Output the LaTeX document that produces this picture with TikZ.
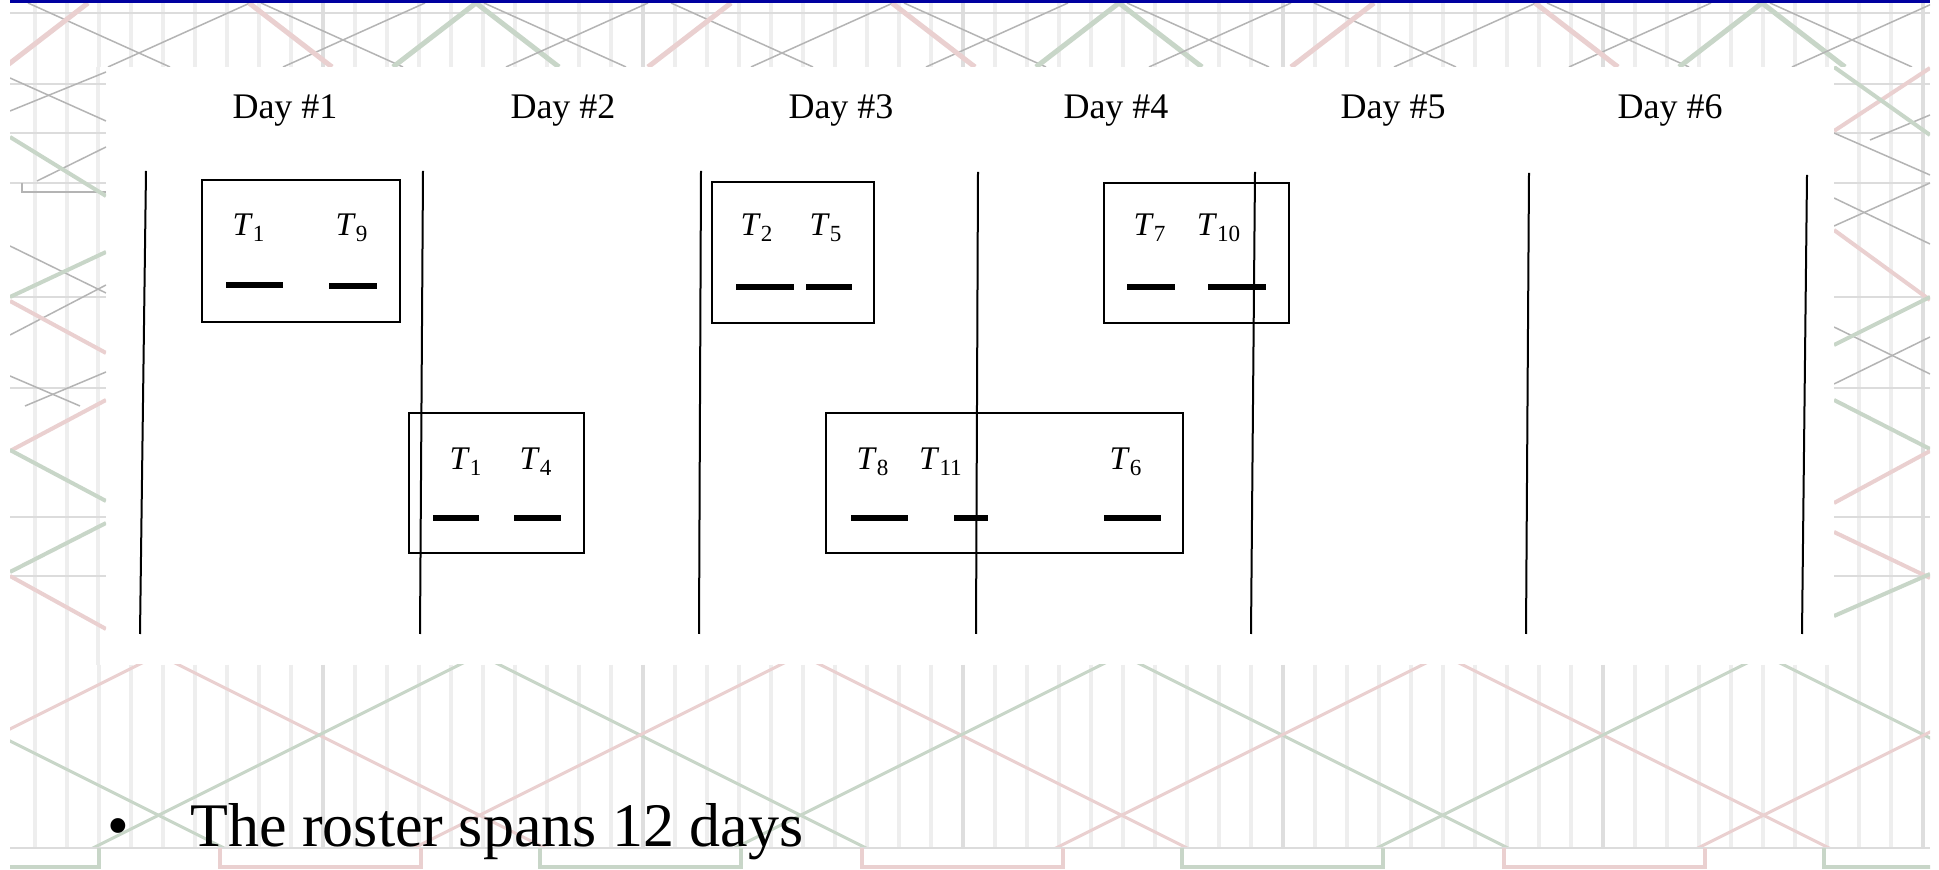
\documentclass[tikz,border=0pt]{standalone}
\usepackage{fontspec}
\setmainfont{Liberation Serif}
\definecolor{barblue}{RGB}{0,0,160}
\definecolor{stripe}{RGB}{238,238,238}
\definecolor{stripedk}{RGB}{222,222,222}
\definecolor{hl}{RGB}{220,220,220}
\definecolor{gl}{RGB}{180,180,180}
\definecolor{pk}{RGB}{234,208,208}
\definecolor{gn}{RGB}{200,214,200}
\newcommand\tsub[1]{\textit{T}\textsubscript{#1}}
\tikzset{
 stripeline/.style={stripe,line width=2pt},
 stripedark/.style={stripedk,line width=2pt},
 hline/.style={hl,line width=0.8pt},
 gline/.style={gl,line width=0.75pt},
 pinkthick/.style={pk,line width=2.5pt},
 greenthick/.style={gn,line width=2.5pt},
 pinkmid/.style={pk,line width=2pt},
 greenmid/.style={gn,line width=2pt},
 pinklat/.style={pk,line width=1.5pt},
 greenlat/.style={gn,line width=1.5pt},
 dayline/.style={black,line width=1pt},
 boxline/.style={black,line width=1pt},
 barline/.style={black,line width=2.8pt},
 daylab/.style={anchor=base,inner sep=0pt,font=\fontsize{18pt}{20pt}\selectfont},
 tlab/.style={anchor=base,inner sep=0pt,font=\fontsize{16.5pt}{18pt}\selectfont},
 bigtext/.style={inner sep=0pt,font=\fontsize{31pt}{36pt}\selectfont},
}
\begin{document}
\begin{tikzpicture}[x=0.5pt,y=-0.5pt]
\useasboundingbox (0,0) rectangle (1939,870);
\fill[white] (0,0) rectangle (1939,870);
\fill[barblue] (10,0) rectangle (1930,3.5);

% ---------- top band
\begin{scope}
\clip (10,3.5) rectangle (1930,67);
\foreach \i in {0,...,59} \draw[stripeline] ({35+32*\i},3) -- ({35+32*\i},67);
\foreach \i in {9,19,...,59} \draw[stripedark] ({35+32*\i},3) -- ({35+32*\i},67);
\draw[hline] (10,13) -- (1930,13);
\foreach \k in {-1,...,3}{
  \foreach \a in {28,261,484} \draw[gline] ({\a+643*\k},3) -- ({\a+643*\k+142},67);
  \foreach \a in {5,250,425} \draw[gline] ({\a+643*\k},3) -- ({\a+643*\k-142},67);
  \draw[pinkthick] ({88+643*\k},3) -- ({5+643*\k},67);
  \draw[pinkthick] ({249+643*\k},3) -- ({332+643*\k},67);
  \draw[greenthick] ({393+643*\k},67) -- ({476+643*\k},3) -- ({559+643*\k},67);
}
\end{scope}

% ---------- left band
\begin{scope}
\clip (10,67) rectangle (106,665);
\foreach \x in {35,67,98} \draw[stripeline] (\x,67) -- (\x,665);
\foreach \y in {84,133,183,297,388,517,576} \draw[hline] (10,\y) -- (106,\y);
\draw[gline] (10,111) -- (106,72);
\draw[gline] (10,78) -- (106,121);
\draw[gline] (37,181) -- (106,147);
\draw[gline] (10,246) -- (106,293);
\draw[gline] (10,335) -- (106,285);
\draw[gline] (10,376) -- (80,406);
\draw[gline] (25,406) -- (106,372);
\draw[gl,line width=1.3pt] (22,183) -- (22,192) -- (106,192);
\draw[greenmid] (10,137) -- (106,196);
\draw[greenmid] (106,252) -- (10,297);
\draw[pinkmid] (10,301) -- (106,353);
\draw[pinkmid] (106,400) -- (10,451);
\draw[greenmid] (10,450) -- (106,501);
\draw[greenmid] (106,523) -- (10,572);
\draw[pinkmid] (10,576) -- (106,629);
\end{scope}

% ---------- right band
\begin{scope}
\clip (1834,67) rectangle (1930,665);
\foreach \x in {1859,1891} \draw[stripeline] (\x,67) -- (\x,665);
\draw[stripedark] (1923,67) -- (1923,665);
\foreach \y in {84,133,183,297,388,517,576} \draw[hline] (1834,\y) -- (1930,\y);
\draw[gline] (1834,133) -- (1930,175);
\draw[gline] (1870,140) -- (1930,115);
\draw[gline] (1834,226) -- (1930,183);
\draw[gline] (1834,198) -- (1930,244);
\draw[gline] (1834,327) -- (1930,374);
\draw[gline] (1834,384) -- (1930,337);
\draw[pinkmid] (1834,131) -- (1930,68);
\draw[greenmid] (1834,67) -- (1930,135);
\draw[pinkmid] (1834,230) -- (1930,300);
\draw[greenmid] (1834,345) -- (1930,297);
\draw[greenmid] (1834,400) -- (1930,449);
\draw[pinkmid] (1834,503) -- (1930,451);
\draw[pinkmid] (1834,532) -- (1930,578);
\draw[greenmid] (1834,616) -- (1930,574);
\end{scope}

% ---------- bottom band
\begin{scope}
\clip (10,665) rectangle (1930,848);
\foreach \i in {0,...,59} \draw[stripeline] ({35+32*\i},665) -- ({35+32*\i},848);
\foreach \i in {9,19,...,59} \draw[stripedark] ({35+32*\i},665) -- ({35+32*\i},848);
\foreach \k in {-2,0,...,6}{
  \draw[pinklat] ({19+321*\k},585) -- ({619+321*\k},885);
  \draw[greenlat] ({19+321*\k},885) -- ({619+321*\k},585);
}
\foreach \k in {-1,1,...,5}{
  \draw[greenlat] ({19+321*\k},585) -- ({619+321*\k},885);
  \draw[pinklat] ({19+321*\k},885) -- ({619+321*\k},585);
}
\end{scope}
\draw[hl,line width=1.3pt] (10,848) -- (1930,848);
\begin{scope}
\clip (10,840) rectangle (1930,870);
\foreach \k in {0,...,3} \draw[greenmid] ({-102+642*\k},848) -- ({-102+642*\k},867) -- ({99+642*\k},867) -- ({99+642*\k},848);
\foreach \k in {0,...,2} \draw[pinkmid] ({220+642*\k},848) -- ({220+642*\k},867) -- ({421+642*\k},867) -- ({421+642*\k},848);
\end{scope}

% ---------- diagram
\node[daylab] (day1) at (285,119) {Day \#1};
\node[daylab] (day2) at (563,119) {Day \#2};
\node[daylab] (day3) at (841,119) {Day \#3};
\node[daylab] (day4) at (1116,119) {Day \#4};
\node[daylab] (day5) at (1393,119) {Day \#5};
\node[daylab] (day6) at (1670,119) {Day \#6};

\draw[dayline] (146,171) -- (140,634);
\draw[dayline] (423,171) -- (420,634);
\draw[dayline] (701,171) -- (699,634);
\draw[dayline] (978,172) -- (976,634);
\draw[dayline] (1255,172) -- (1251,634);
\draw[dayline] (1529,173) -- (1526,634);
\draw[dayline] (1807,175) -- (1802,634);

% boxes
\draw[boxline] (202,180) rectangle (400,322);
\draw[boxline] (712,182) rectangle (874,323);
\draw[boxline] (1104,183) rectangle (1289,323);
\draw[boxline] (409,413) rectangle (584,553);
\draw[boxline] (826,413) rectangle (1183,553);

% labels
\node[tlab] (t1) at (249,236) {\tsub{1}};
\node[tlab] (t9) at (352,236) {\tsub{9}};
\node[tlab] (t2) at (757,236) {\tsub{2}};
\node[tlab] (t5) at (826,236) {\tsub{5}};
\node[tlab] (t7) at (1150,236) {\tsub{7}};
\node[tlab] (t10) at (1219,236) {\tsub{10}};
\node[tlab] (t1b) at (466,470) {\tsub{1}};
\node[tlab] (t4) at (536,470) {\tsub{4}};
\node[tlab] (t8) at (873,470) {\tsub{8}};
\node[tlab] (t11) at (941,470) {\tsub{11}};
\node[tlab] (t6) at (1126,470) {\tsub{6}};

% bars
\draw[barline] (226,285) -- (283,285);
\draw[barline] (329,286) -- (377,286);
\draw[barline] (736,287) -- (794,287);
\draw[barline] (806,287) -- (852,287);
\draw[barline] (1127,287) -- (1175,287);
\draw[barline] (1208,287) -- (1266,287);
\draw[barline] (433,518) -- (479,518);
\draw[barline] (514,518) -- (561,518);
\draw[barline] (851,518) -- (908,518);
\draw[barline] (954,518) -- (988,518);
\draw[barline] (1104,518) -- (1161,518);

% bullet text
\node[bigtext,anchor=base] (bul) at (118,847) {•};
\node[bigtext,anchor=base west] (roster) at (190,847) {The roster spans 12 days};
\end{tikzpicture}
\end{document}
